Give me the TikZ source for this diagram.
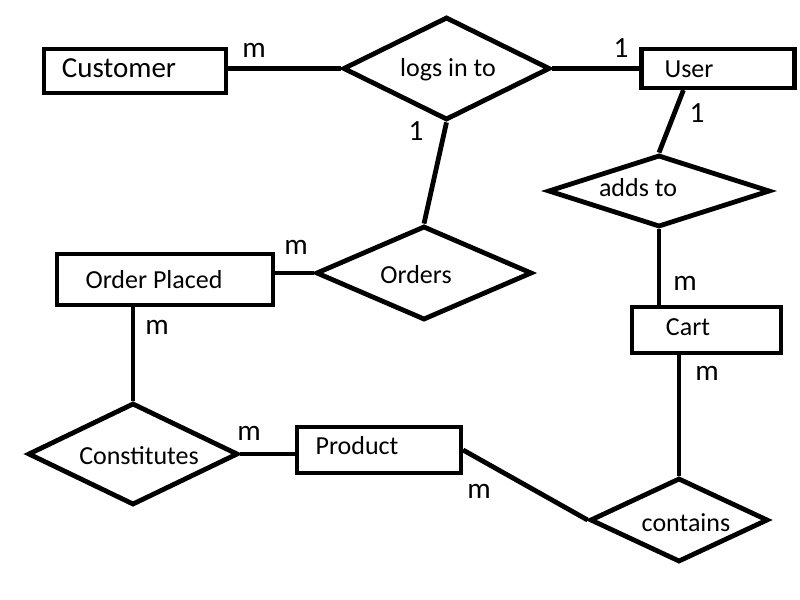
\documentclass[tikz,border=0pt]{standalone}
\usepackage{fontspec}
\setmainfont{Carlito}
\usetikzlibrary{shapes.geometric,calc}
\newdimen\pxu
\pxu=0.75pt
\tikzset{
  ent/.style={draw, rectangle, line width=3.1pt, inner sep=0pt},
  rel/.style={draw, diamond, line width=3.6pt, inner sep=0pt},
  conn/.style={line width=3.6pt},
  txt/.style={font=\fontsize{19.5}{22}\selectfont, inner sep=0pt, anchor=base},
  card/.style={font=\fontsize{22}{24}\selectfont, inner sep=0pt}
}
\begin{document}
\begin{tikzpicture}[x=0.75pt,y=-0.75pt]
\useasboundingbox (0,0) rectangle (800,600);
% entities
\node[ent, minimum width=182\pxu, minimum height=44\pxu] (cust) at (135,71) {};
\node[ent, minimum width=153\pxu, minimum height=39\pxu] (user) at (718,68.5) {};
\node[ent, minimum width=216\pxu, minimum height=51\pxu] (oplaced) at (165,279.5) {};
\node[ent, minimum width=149\pxu, minimum height=46\pxu] (cart) at (706.5,330) {};
\node[ent, minimum width=164\pxu, minimum height=46\pxu] (prod) at (379,450) {};
% relationships
\node[rel, minimum width=207\pxu, minimum height=103\pxu] (logs) at (446.5,68.5) {};
\node[rel, minimum width=216\pxu, minimum height=94\pxu] (orders) at (424,273) {};
\node[rel, minimum width=222\pxu, minimum height=72\pxu] (adds) at (659,191) {};
\node[rel, minimum width=210\pxu, minimum height=102\pxu] (const) at (133,454) {};
\node[rel, minimum width=178\pxu, minimum height=84\pxu] (contains) at (679,520) {};
% texts
\node[txt, font=\fontsize{21.75}{24}\selectfont] (tcust) at (119,77) {Customer};
\node[txt] (tlogs) at (448,76) {logs in to};
\node[txt] (tuser) at (689,77) {User};
\node[txt] (tadds) at (638,196) {adds to};
\node[txt] (tcart) at (688,335) {Cart};
\node[txt] (torders) at (416,283) {Orders};
\node[txt] (toplaced) at (154,288) {Order Placed};
\node[txt] (tconst) at (139,464) {Constitutes};
\node[txt] (tprod) at (357,454) {Product};
\node[txt] (tcont) at (686,531) {contains};
% connectors
\draw[conn] (cust.east |- logs.west) -- (logs.west);
\draw[conn] (logs.east) -- (logs.east -| user.west);
\draw[conn] (logs.south) -- (orders.north);
\draw[conn] ($(user.south west)+(44,0)$) -- (adds.north);
\draw[conn] (adds.south) -- (adds.south |- cart.north);
\draw[conn] (contains.north |- cart.south) -- (contains.north);
\draw[conn] (orders.west -| oplaced.east) -- (orders.west);
\draw[conn] (const.north |- oplaced.south) -- (const.north);
\draw[conn] (const.east) -- (const.east -| prod.west);
\draw[conn] (prod.east) -- (contains.west);
% cardinalities
\node[card] (c1) at (254,50) {m};
\node[card] (c2) at (621,48) {1};
\node[card] (c3) at (416,131) {1};
\node[card] (c4) at (697,113) {1};
\node[card] (c5) at (685,283) {m};
\node[card] (c6) at (296,247) {m};
\node[card] (c7) at (157,327) {m};
\node[card] (c8) at (249,433) {m};
\node[card] (c9) at (707,373) {m};
\node[card] (c10) at (479,491) {m};
\end{tikzpicture}
\end{document}
